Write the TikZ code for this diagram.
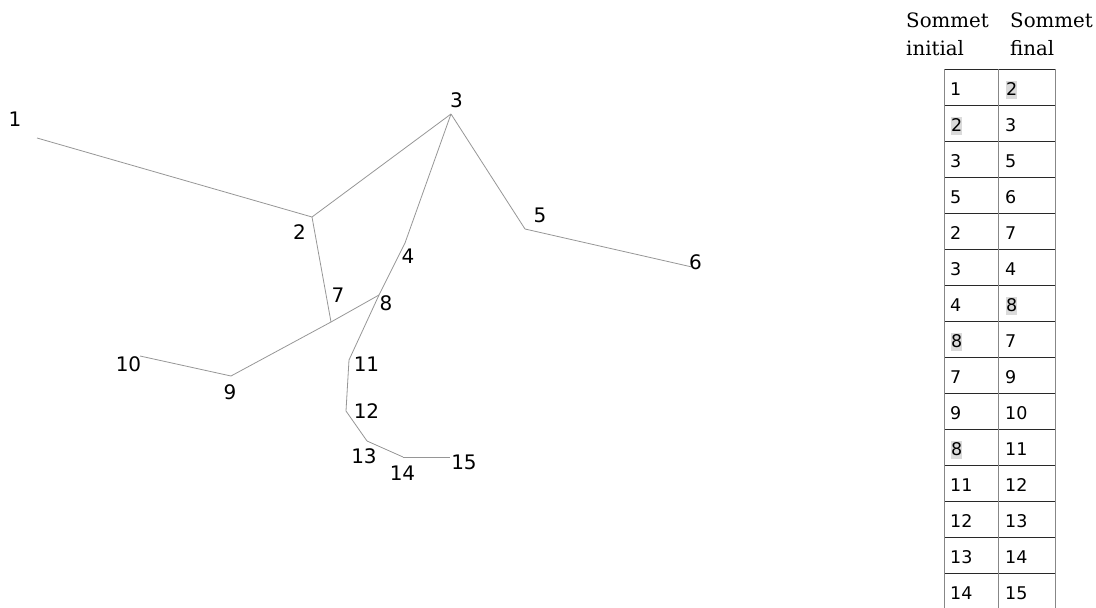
\documentclass[tikz,border=0pt]{standalone}
\usepackage{fontspec}
\setmainfont{DejaVu Serif}
\newfontfamily\labfont{DejaVu Sans}
\definecolor{edgegray}{RGB}{150,150,150}
\definecolor{hlgray}{RGB}{218,218,218}
\definecolor{vgray}{RGB}{135,135,135}
\definecolor{hgray}{RGB}{40,40,40}
\begin{document}
\begin{tikzpicture}[x=1pt,y=-1pt,
  vlabel/.style={font=\labfont\fontsize{20}{24}\selectfont, anchor=base, inner sep=0pt},
  edge/.style={draw=edgegray, line width=0.8pt},
  cell/.style={font=\labfont\fontsize{17.5}{21}\selectfont, anchor=base west, inner sep=0pt},
  hlcell/.style={cell, fill=hlgray, text height=14pt, text depth=4pt},
  head/.style={font=\fontsize{19.8}{28}\selectfont, anchor=base west, inner sep=0pt},
  hline/.style={draw=hgray, line width=0.8pt},
  vline/.style={draw=vgray, line width=0.9pt}]
\useasboundingbox (0,0) rectangle (1096,608);
% vertices
\coordinate (v1) at (37,138);
\coordinate (v2) at (312,217);
\coordinate (v3) at (451,114);
\coordinate (v4) at (405,243);
\coordinate (v5) at (525,229);
\coordinate (v6) at (692,267);
\coordinate (v7) at (331,322);
\coordinate (v8) at (379,295);
\coordinate (v9) at (231,376);
\coordinate (v10) at (140,356);
\coordinate (v11) at (349,360);
\coordinate (v12) at (346,411);
\coordinate (v13) at (367,441);
\coordinate (v14) at (403,457);
\coordinate (v15) at (450,457);
% edges
\draw[edge] (v1) -- (v2);
\draw[edge] (v2) -- (v3);
\draw[edge] (v3) -- (v5);
\draw[edge] (v5) -- (v6);
\draw[edge] (v2) -- (v7);
\draw[edge] (v3) -- (v4);
\draw[edge] (v4) -- (v8);
\draw[edge] (v8) -- (v7);
\draw[edge] (v7) -- (v9);
\draw[edge] (v9) -- (v10);
\draw[edge] (v8) -- (v11);
\draw[edge] (v11) -- (v12);
\draw[edge] (v12) -- (v13);
\draw[edge] (v13) -- (v14);
\draw[edge] (v14) -- (v15);
% labels
\node[vlabel] (l1) at (15,126) {1};
\node[vlabel] (l2) at (299.5,239) {2};
\node[vlabel] (l3) at (456.5,107) {3};
\node[vlabel] (l4) at (408,263) {4};
\node[vlabel] (l5) at (540,222) {5};
\node[vlabel] (l6) at (695.5,269) {6};
\node[vlabel] (l7) at (338,302) {7};
\node[vlabel] (l8) at (386,310) {8};
\node[vlabel] (l9) at (230,399) {9};
\node[vlabel] (l10) at (128.5,371) {10};
\node[vlabel] (l11) at (366.5,371) {11};
\node[vlabel] (l12) at (366.5,418) {12};
\node[vlabel] (l13) at (364,463) {13};
\node[vlabel] (l14) at (402.5,480) {14};
\node[vlabel] (l15) at (464,469) {15};
% table header
\node[head] (h1a) at (906,27) {Sommet};
\node[head] (h1b) at (906,55) {initial};
\node[head] (h2a) at (1010,27) {Sommet};
\node[head] (h2b) at (1010,55) {final};
% table grid
\foreach \k in {0,...,15} {
  \draw[hline] (944,69+36*\k) -- (1055,69+36*\k);
}
\foreach \x in {944,998.5,1055} {
  \draw[vline] (\x,69) -- (\x,609);
}
% table cells
\foreach \a/\b [count=\k] in {1/2,2/3,3/5,5/6,2/7,3/4,4/8,8/7,7/9,9/10,8/11,11/12,12/13,13/14,14/15} {
  \pgfmathsetmacro{\yb}{69+36*(\k-1)+26}
  \ifnum\k=2 \node[hlcell] (L\k) at (951,\yb) {\a};
  \else\ifnum\k=8 \node[hlcell] (L\k) at (951,\yb) {\a};
  \else\ifnum\k=11 \node[hlcell] (L\k) at (951,\yb) {\a};
  \else \node[cell] (L\k) at (950,\yb) {\a};
  \fi\fi\fi
  \ifnum\k=1 \node[hlcell] (R\k) at (1006,\yb) {\b};
  \else\ifnum\k=7 \node[hlcell] (R\k) at (1006,\yb) {\b};
  \else \node[cell] (R\k) at (1005,\yb) {\b};
  \fi\fi
}
\end{tikzpicture}
\end{document}
